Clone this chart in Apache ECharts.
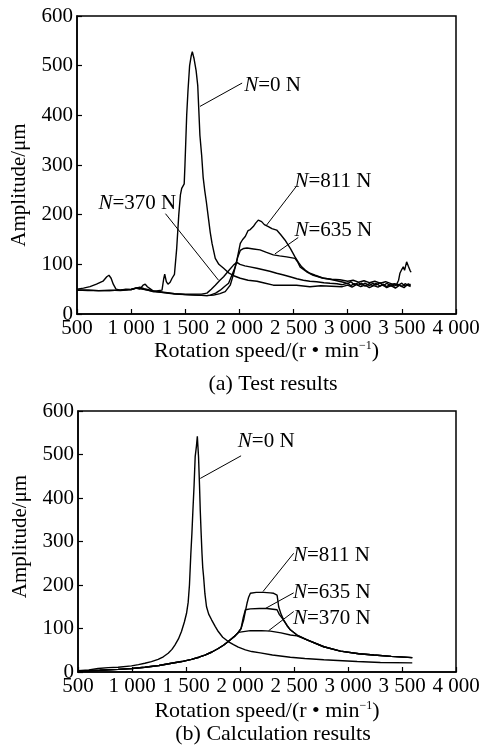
<!DOCTYPE html>
<html>
<head>
<meta charset="utf-8">
<script src="https://cdn.jsdelivr.net/npm/echarts/dist/echarts.min.js"></script>
<style>
  html, body { margin: 0; padding: 0; background: #fff; }
  #chart { width: 488px; height: 747px; }
</style>
</head>
<body>
<div id="chart"></div>
<script>
// ---- axis ticks ----
const xTicks = [500, 1000, 1500, 2000, 2500, 3000, 3500, 4000];
const xTickLabels = ['500', '1 000', '1 500', '2 000', '2 500', '3 000', '3 500', '4 000'];
const yTicks = [0, 100, 200, 300, 400, 500, 600];
const yTickLabels = ['0', '100', '200', '300', '400', '500', '600'];

// ---- (a) measured amplitude [rotation speed r/min, amplitude um] ----
const testN0 = [
  [500,50],[560,52],[620,55],[680,60],[740,66],[775,75],[795,78],[815,72],[835,60],[860,50],
  [900,48],[950,50],[1000,49],[1040,52],[1080,50],[1110,58],[1130,60],[1150,55],[1180,50],[1210,45],
  [1250,47],[1285,48],[1300,70],[1310,80],[1325,65],[1340,60],[1360,64],[1378,72],[1400,80],[1420,130],
  [1440,200],[1455,240],[1467,253],[1490,262],[1497,300],[1505,350],[1513,400],[1525,450],[1540,500],[1555,520],
  [1565,528],[1580,515],[1600,490],[1615,460],[1625,410],[1635,360],[1651,320],[1665,275],[1680,248],[1695,225],
  [1716,189],[1730,165],[1747,142],[1777,112],[1810,100],[1854,92],[1900,83],[1947,77],[2008,72],[2080,68],
  [2162,66],[2220,63],[2313,58],[2420,58],[2528,58],[2651,55],[2750,57],[2850,56],[2950,55],[3000,58],
  [3040,54],[3080,59],[3120,55],[3160,58],[3200,53],[3240,57],[3280,54],[3320,59],[3360,53],[3400,57],
  [3440,52],[3480,58],[3520,53],[3550,59],[3580,55]
];
const testN370 = [
  [500,48],[600,47],[700,47],[800,47],[900,48],[1000,49],[1050,52],[1100,50],[1150,48],[1200,45],
  [1300,43],[1400,41],[1500,40],[1600,40],[1650,40],[1700,42],[1740,50],[1777,58],[1820,68],[1854,75],
  [1900,87],[1947,99],[1977,104],[2005,100],[2050,97],[2097,95],[2160,92],[2220,89],[2280,86],[2344,82],
  [2400,79],[2467,75],[2530,71],[2590,68],[2650,66],[2713,65],[2780,63],[2836,62],[2900,61],[2950,59],
  [3000,62],[3030,57],[3060,61],[3100,58],[3130,62],[3160,56],[3200,61],[3230,57],[3260,62],[3300,56],
  [3330,60],[3360,55],[3400,61],[3430,56],[3460,60],[3500,55],[3530,61],[3560,57],[3580,60]
];
const testN635 = [
  [500,48],[600,48],[700,47],[800,47],[900,48],[1000,50],[1060,53],[1100,51],[1150,48],[1200,46],
  [1300,43],[1400,40],[1500,39],[1600,38],[1700,37],[1731,38],[1780,42],[1823,48],[1860,55],[1900,62],
  [1930,78],[1962,95],[1985,115],[2008,128],[2040,132],[2070,133],[2130,131],[2190,129],[2250,124],[2313,119],
  [2370,117],[2436,115],[2513,112],[2540,104],[2559,95],[2620,85],[2682,78],[2760,73],[2836,70],[2900,67],
  [2960,64],[3000,61],[3030,65],[3060,59],[3100,63],[3130,58],[3160,62],[3200,57],[3230,62],[3260,58],
  [3300,63],[3330,57],[3360,62],[3400,56],[3430,61],[3460,57],[3500,62],[3530,56],[3560,61],[3580,57]
];
const testN811 = [
  [500,48],[600,48],[700,47],[800,48],[900,47],[1000,49],[1080,54],[1120,51],[1200,47],[1300,44],
  [1400,41],[1500,39],[1600,38],[1700,37],[1762,38],[1820,41],[1869,45],[1915,58],[1945,80],[1977,109],
  [2008,142],[2030,150],[2054,156],[2080,168],[2100,170],[2128,176],[2150,183],[2174,189],[2205,186],[2230,180],
  [2267,176],[2300,172],[2344,169],[2380,160],[2420,149],[2470,132],[2513,115],[2545,104],[2575,95],[2610,88],
  [2651,82],[2700,78],[2774,72],[2850,70],[2928,69],[3000,66],[3050,68],[3100,64],[3150,67],[3200,63],
  [3250,66],[3300,62],[3350,65],[3400,61],[3452,60],[3470,68],[3482,82],[3500,90],[3513,95],[3525,88],
  [3544,105],[3560,96],[3575,88],[3585,84]
];

// ---- (b) calculated amplitude ----
const calcN0 = [
  [500,3],[600,5],[686,8],[780,10],[871,11],[995,14],[1060,17],[1119,20],[1180,24],[1242,29],
  [1290,35],[1335,43],[1370,52],[1397,62],[1430,76],[1458,93],[1485,115],[1505,135],[1520,160],[1532,200],
  [1545,273],[1555,320],[1564,372],[1575,430],[1585,495],[1597,520],[1605,542],[1610,520],[1616,495],[1625,430],
  [1632,372],[1640,320],[1648,273],[1655,240],[1663,219],[1675,180],[1690,150],[1710,133],[1737,120],[1770,105],
  [1799,93],[1840,80],[1891,70],[1940,63],[1984,57],[2050,51],[2108,47],[2188,44],[2300,39],[2466,34],
  [2600,31],[2776,28],[2950,26],[3085,24],[3300,22],[3595,21]
];
const calcN370 = [
  [500,2],[600,3],[700,4],[871,6],[1000,8],[1119,11],[1250,15],[1366,20],[1460,24],[1551,29],
  [1620,34],[1675,39],[1740,46],[1799,54],[1850,62],[1891,70],[1925,77],[1954,83],[1984,91],[2000,93],
  [2096,95],[2200,95],[2281,94],[2380,90],[2466,85],[2528,83],[2621,74],[2776,58],[2930,48],[3100,42],
  [3239,39],[3400,36],[3595,33]
];
const calcN635 = [
  [500,2],[600,3],[700,4],[871,6],[1000,8],[1119,11],[1250,15],[1366,20],[1460,24],[1551,29],
  [1620,34],[1675,39],[1740,46],[1799,54],[1850,62],[1891,70],[1925,77],[1954,83],[1984,91],[2010,100],
  [2030,125],[2050,143],[2096,145],[2180,146],[2250,146],[2343,143],[2365,132],[2390,124],[2404,120],[2435,107],
  [2466,97],[2528,85],[2621,74],[2776,58],[2930,48],[3100,42],[3239,39],[3400,36],[3595,33]
];
const calcN811 = [
  [500,2],[600,3],[700,4],[871,6],[1000,8],[1119,11],[1250,15],[1366,20],[1460,24],[1551,29],
  [1620,34],[1675,39],[1740,46],[1799,54],[1850,62],[1891,70],[1925,77],[1954,83],[1984,91],[2010,100],
  [2034,120],[2050,140],[2065,158],[2080,172],[2096,181],[2150,183],[2219,183],[2280,182],[2312,181],[2343,177],
  [2350,165],[2358,150],[2380,133],[2404,120],[2435,107],[2466,97],[2528,85],[2621,74],[2776,58],[2930,48],
  [3100,42],[3239,39],[3400,36],[3595,33]
];

const loadLabels = ['=0 N', '=370 N', '=635 N', '=811 N'];

const SERIF = '"Liberation Serif", "Times New Roman", "DejaVu Serif", serif';
const BLACK = '#000';

// leader lines and label anchors for each curve, in data units
const notesTop = [
  { from: [1636, 418], to: [2025, 465], at: [2040, 461] },
  { from: [1807, 68],  to: [1317, 202], at: [694, 223] },
  { from: [2328, 121], to: [2543, 154], at: [2504, 169] },
  { from: [2251, 179], to: [2522, 256], at: [2504, 266] }
];
const notesBottom = [
  { from: [1632, 445], to: [2010, 497], at: [1975, 529] },
  { from: [2265, 95],  to: [2497, 139], at: [2485, 124] },
  { from: [2235, 146], to: [2497, 182], at: [2485, 182] },
  { from: [2213, 185], to: [2497, 273], at: [2485, 269] }
];

const labelRich = {
  i: { fontFamily: SERIF, fontStyle: 'italic', fontSize: 21, color: BLACK },
  n: { fontFamily: SERIF, fontSize: 21, color: BLACK }
};

function curve(data, gridIdx, note, text) {
  return {
    type: 'line',
    xAxisIndex: gridIdx,
    yAxisIndex: gridIdx,
    data: data,
    symbol: 'none',
    showSymbol: false,
    silent: true,
    animation: false,
    lineStyle: { color: BLACK, width: 1.4 },
    markLine: {
      silent: true,
      animation: false,
      symbol: ['none', 'none'],
      label: { show: false },
      lineStyle: { color: BLACK, width: 1, type: 'solid' },
      emphasis: { disabled: true },
      data: [[{ coord: note.from }, { coord: note.to }]]
    },
    markPoint: {
      silent: true,
      animation: false,
      symbol: 'circle',
      symbolSize: 1,
      itemStyle: { color: 'rgba(0,0,0,0)' },
      label: {
        show: true,
        position: 'right',
        distance: 0,
        formatter: '{i|N}{n|' + text + '}',
        rich: labelRich
      },
      data: [{ coord: note.at }]
    }
  };
}

function xAxisFor(gridIdx, gap) {
  return {
    type: 'value', gridIndex: gridIdx, min: 500, max: 4000, interval: 500,
    axisLine: { show: true, lineStyle: { color: BLACK, width: 1.5 } },
    axisTick: { show: true, inside: true, length: 5, lineStyle: { color: BLACK, width: 1.2 } },
    splitLine: { show: false },
    axisLabel: {
      color: BLACK, fontFamily: SERIF, fontSize: 21, margin: 4,
      formatter: v => xTickLabels[xTicks.indexOf(v)]
    },
    name: 'Rotation speed/(r • min{s|−1})',
    nameLocation: 'middle',
    nameGap: gap,
    nameTextStyle: {
      color: BLACK, fontFamily: SERIF, fontSize: 22,
      rich: { s: { fontFamily: SERIF, fontSize: 12, color: BLACK, verticalAlign: 'top', padding: [0, 0, 10, 0] } }
    }
  };
}

function yAxisFor(gridIdx, pad) {
  return {
    type: 'value', gridIndex: gridIdx, min: 0, max: 600, interval: 100,
    axisLine: { show: true, lineStyle: { color: BLACK, width: 1.5 } },
    axisTick: { show: true, inside: true, length: 5, lineStyle: { color: BLACK, width: 1.2 } },
    splitLine: { show: false },
    axisLabel: {
      color: BLACK, fontFamily: SERIF, fontSize: 21, margin: 4,
      formatter: v => yTickLabels[yTicks.indexOf(v)]
    },
    name: 'Amplitude/μm',
    nameLocation: 'middle',
    nameGap: 47,
    nameTextStyle: { color: BLACK, fontFamily: SERIF, fontSize: 21, padding: pad }
  };
}

const chart = echarts.init(document.getElementById('chart'), null, { renderer: 'canvas' });
chart.setOption({
  backgroundColor: '#fff',
  animation: false,
  title: [
    { text: '(a) Test results', left: 268, top: 368, textAlign: 'center',
      textStyle: { color: BLACK, fontFamily: SERIF, fontSize: 22, fontWeight: 'normal' } },
    { text: '(b) Calculation results', left: 268, top: 718, textAlign: 'center',
      textStyle: { color: BLACK, fontFamily: SERIF, fontSize: 22, fontWeight: 'normal' } }
  ],
  grid: [
    { left: 77, right: 32, top: 16, height: 298, show: true, borderColor: BLACK, borderWidth: 1.5, backgroundColor: 'transparent' },
    { left: 78, right: 32, top: 411, height: 261, show: true, borderColor: BLACK, borderWidth: 1.5, backgroundColor: 'transparent' }
  ],
  xAxis: [xAxisFor(0, 24), xAxisFor(1, 28)],
  yAxis: [yAxisFor(0, [0, 40, 0, 0]), yAxisFor(1, [0, 0, 0, 10])],
  series: [
    curve(testN0, 0, notesTop[0], loadLabels[0]),
    curve(testN370, 0, notesTop[1], loadLabels[1]),
    curve(testN635, 0, notesTop[2], loadLabels[2]),
    curve(testN811, 0, notesTop[3], loadLabels[3]),
    curve(calcN0, 1, notesBottom[0], loadLabels[0]),
    curve(calcN370, 1, notesBottom[1], loadLabels[1]),
    curve(calcN635, 1, notesBottom[2], loadLabels[2]),
    curve(calcN811, 1, notesBottom[3], loadLabels[3])
  ]
});
</script>
</body>
</html>
